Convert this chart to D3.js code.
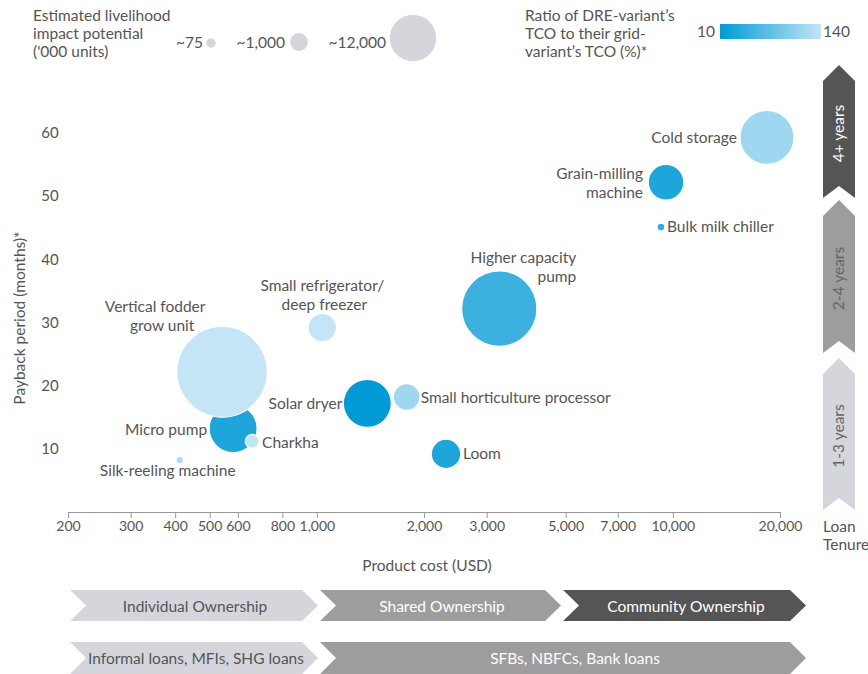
<!DOCTYPE html>
<html><head><meta charset="utf-8">
<script src="https://cdn.jsdelivr.net/npm/d3@7"></script>
<style>
body{margin:0;background:#fff;}
svg{font-family:Lato,"Open Sans",sans-serif;}
</style></head>
<body>
<svg id="chart" width="868" height="674"></svg>
<script>
// ---------- DATA ----------
const products = ["Silk-reeling machine","Micro pump","Vertical fodder grow unit","Charkha",
  "Small refrigerator/deep freezer","Solar dryer","Small horticulture processor","Loom",
  "Higher capacity pump","Bulk milk chiller","Grain-milling machine","Cold storage"];
const productCost = [412, 582, 542, 658, 1036, 1386, 1788, 2306, 3254, 9262, 9570, 18380];
const paybackMonths = [8.2, 13.2, 22.2, 11.2, 29.2, 17.2, 18.2, 9.2, 32.2, 45.1, 52.2, 59.3];
const impactThousands = [12, 12970, 52900, 420, 3700, 12970, 3100, 4000, 35500, 20, 6400, 17000];
const tcoRatio = [125, 30, 140, 140, 140, 10, 115, 30, 50, 45, 30, 115];

const xTicks = [200,300,400,500,600,800,1000,2000,3000,5000,7000,10000,20000];
const yTicks = [10,20,30,40,50,60];
const sizeLegend = [{v:75,label:"~75"},{v:1000,label:"~1,000"},{v:12000,label:"~12,000"}];
const colorLegendDomain = [10,140];
const tenure = ["4+ years","2-4 years","1-3 years"];
const ownership = ["Individual Ownership","Shared Ownership","Community Ownership"];
const lenders = ["Informal loans, MFIs, SHG loans","SFBs, NBFCs, Bank loans"];

// ---------- LAYOUT (label offsets relative to bubble centre) ----------
const labelLayout = {
  "Silk-reeling machine": [{t:"Silk-reeling machine",dx:-12,dy:10,a:"middle"}],
  "Micro pump": [{t:"Micro pump",dx:-26,dy:1,a:"end"}],
  "Vertical fodder grow unit": [{t:"Vertical fodder",dx:-67,dy:-65,a:"middle"},{t:"grow unit",dx:-60,dy:-46,a:"middle"}],
  "Charkha": [{t:"Charkha",dx:10,dy:1,a:"start"}],
  "Small refrigerator/deep freezer": [{t:"Small refrigerator/",dx:0,dy:-42,a:"middle"},{t:"deep freezer",dx:2,dy:-23,a:"middle"}],
  "Solar dryer": [{t:"Solar dryer",dx:-25,dy:0,a:"end"}],
  "Small horticulture processor": [{t:"Small horticulture processor",dx:14,dy:1,a:"start"}],
  "Loom": [{t:"Loom",dx:17,dy:0,a:"start"}],
  "Higher capacity pump": [{t:"Higher capacity",dx:77,dy:-51,a:"end"},{t:"pump",dx:77,dy:-32,a:"end"}],
  "Bulk milk chiller": [{t:"Bulk milk chiller",dx:6,dy:-1,a:"start"}],
  "Grain-milling machine": [{t:"Grain-milling",dx:-23,dy:-9,a:"end"},{t:"machine",dx:-23,dy:10,a:"end"}],
  "Cold storage": [{t:"Cold storage",dx:-30,dy:0,a:"end"}]
};

const svg = d3.select("#chart");
const textCol = "#555";
const fs = 15.5;

const x = d3.scaleLog().domain([200,20000]).range([68,780]);
const y = d3.scaleLinear().domain([0,60]).range([512,133]);
const r = d3.scaleSqrt().domain([0,12000]).range([3.1,23.2]);
const color = d3.scaleLinear().domain(colorLegendDomain).range(["#009ad6","#c3e5f6"]);

// X axis
const xAxis = d3.axisBottom(x).tickValues(xTicks).tickFormat(d3.format(",")).tickSize(6).tickSizeOuter(0);
const gx = svg.append("g").attr("transform","translate(0,512)").call(xAxis);
gx.select(".domain").attr("stroke","#999");
gx.selectAll(".tick line").attr("stroke","#999");
gx.selectAll(".tick text").attr("fill",textCol).attr("font-size",14).attr("font-family","Lato");

svg.append("text").attr("x",427).attr("y",566).attr("dy","0.35em").attr("text-anchor","middle")
  .attr("font-size",fs).attr("fill",textCol).text("Product cost (USD)");

// Y ticks
svg.append("g").selectAll("text").data(yTicks).join("text")
  .attr("x",50).attr("y",d=>y(d)).attr("dy","0.35em").attr("text-anchor","middle")
  .attr("font-size",15).attr("fill",textCol).text(d=>d);
svg.append("text").attr("transform","translate(20,318) rotate(-90)").attr("dy","0.35em")
  .attr("text-anchor","middle").attr("font-size",fs).attr("fill",textCol).text("Payback period (months)*");

// Bubbles
const data = products.map((p,i)=>({p,c:productCost[i],m:paybackMonths[i],v:impactThousands[i],t:tcoRatio[i]}));
svg.append("g").selectAll("circle").data(data).join("circle")
  .attr("cx",d=>x(d.c)).attr("cy",d=>y(d.m)).attr("r",d=>r(d.v))
  .attr("fill",d=>color(d.t)).attr("stroke","#fff").attr("stroke-width",1.2);

// Labels
const lg = svg.append("g");
data.forEach(d=>{
  labelLayout[d.p].forEach(l=>{
    lg.append("text").attr("x",x(d.c)+l.dx).attr("y",y(d.m)+l.dy).attr("dy","0.35em")
      .attr("text-anchor",l.a).attr("font-size",fs).attr("fill",textCol).text(l.t);
  });
});

// Size legend
const sl = svg.append("g");
["Estimated livelihood","impact potential","('000 units)"].forEach((t,i)=>{
  sl.append("text").attr("x",33).attr("y",21+i*18).attr("font-size",fs).attr("fill",textCol).text(t);
});
const slPos = [{cx:211,cy:43,tx:203},{cx:299,cy:42,tx:285},{cx:413,cy:38,tx:386}];
sizeLegend.forEach((s,i)=>{
  sl.append("circle").attr("cx",slPos[i].cx).attr("cy",slPos[i].cy).attr("r",r(s.v)).attr("fill","#d5d6db");
  sl.append("text").attr("x",slPos[i].tx).attr("y",43).attr("dy","0.35em").attr("text-anchor","end")
    .attr("font-size",fs).attr("fill",textCol).text(s.label);
});

// Colour legend
const defs = svg.append("defs");
const grad = defs.append("linearGradient").attr("id","tcoGrad");
grad.append("stop").attr("offset","0%").attr("stop-color",color(colorLegendDomain[0]));
grad.append("stop").attr("offset","100%").attr("stop-color",color(colorLegendDomain[1]));
["Ratio of DRE-variant\u2019s","TCO to their grid-","variant\u2019s TCO (%)*"].forEach((t,i)=>{
  svg.append("text").attr("x",525).attr("y",21+i*18).attr("font-size",fs).attr("fill",textCol).text(t);
});
svg.append("rect").attr("x",720).attr("y",24).attr("width",101).attr("height",15).attr("fill","url(#tcoGrad)");
svg.append("text").attr("x",715).attr("y",32).attr("dy","0.35em").attr("text-anchor","end").attr("font-size",fs).attr("fill",textCol).text(colorLegendDomain[0]);
svg.append("text").attr("x",823).attr("y",32).attr("dy","0.35em").attr("font-size",fs).attr("fill",textCol).text(colorLegendDomain[1]);

// Tenure chevrons (vertical, pointing up)
const tenureBoxes = [{top:65,bot:198,fill:"#555555",tc:"#fff"},{top:200,bot:353,fill:"#9d9d9d",tc:"#666"},{top:358,bot:510,fill:"#d5d6db",tc:"#666"}];
const vx0=823, vx1=855, vd=16;
tenureBoxes.forEach((b,i)=>{
  const cx=(vx0+vx1)/2;
  const pts=[[cx,b.top],[vx1,b.top+vd],[vx1,b.bot],[cx,b.bot-vd+4],[vx0,b.bot],[vx0,b.top+vd]];
  svg.append("path").attr("d","M"+pts.map(p=>p.join(",")).join("L")+"Z").attr("fill",b.fill);
  svg.append("text").attr("transform",`translate(${cx},${(b.top+b.bot)/2+2}) rotate(-90)`).attr("dy","0.35em")
    .attr("text-anchor","middle").attr("font-size",fs).attr("fill",b.tc).text(tenure[i]);
});
svg.append("text").attr("x",823).attr("y",527).attr("dy","0.35em").attr("font-size",fs).attr("fill",textCol).text("Loan");
svg.append("text").attr("x",823).attr("y",545).attr("dy","0.35em").attr("font-size",fs).attr("fill",textCol).text("Tenure");

// Bottom chevrons (horizontal, pointing right)
function hChevron(L,R,top,bot,fill,d){
  const mid=(top+bot)/2;
  const pts=[[L,top],[R,top],[R+d,mid],[R,bot],[L,bot],[L+d,mid]];
  return svg.append("path").attr("d","M"+pts.map(p=>p.join(",")).join("L")+"Z").attr("fill",fill);
}
const row1=[{L:70,R:302,fill:"#d5d6db",tc:textCol,tx:195},{L:320,R:545,fill:"#9d9d9d",tc:"#fff",tx:442},{L:563,R:790,fill:"#555555",tc:"#fff",tx:686}];
row1.forEach((b,i)=>{
  hChevron(b.L,b.R,590,621,b.fill,16);
  svg.append("text").attr("x",b.tx).attr("y",607).attr("dy","0.35em").attr("text-anchor","middle")
    .attr("font-size",fs).attr("fill",b.tc).text(ownership[i]);
});
const row2=[{L:70,R:302,fill:"#d5d6db",tc:textCol,tx:196},{L:320,R:790,fill:"#9d9d9d",tc:"#fff",tx:575}];
row2.forEach((b,i)=>{
  hChevron(b.L,b.R,642,674,b.fill,16);
  svg.append("text").attr("x",b.tx).attr("y",659).attr("dy","0.35em").attr("text-anchor","middle")
    .attr("font-size",fs).attr("fill",b.tc).text(lenders[i]);
});
</script>
</body></html>
